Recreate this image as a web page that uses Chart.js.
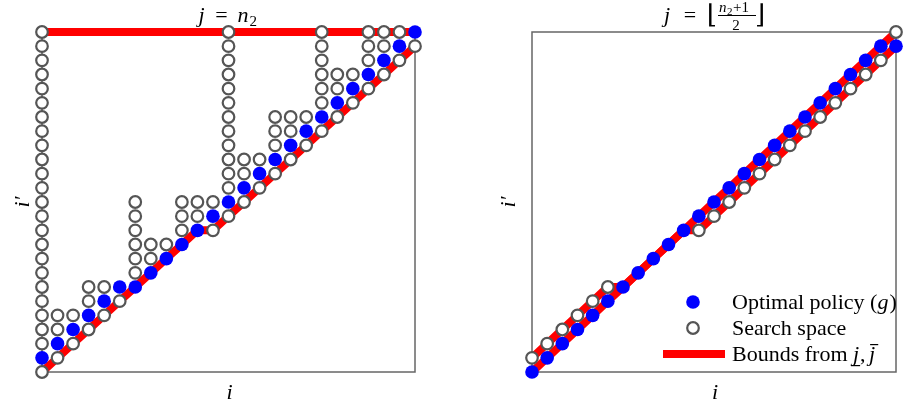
<!DOCTYPE html>
<html>
<head>
<meta charset="utf-8">
<script src="https://cdn.jsdelivr.net/npm/chart.js@4.4.1/dist/chart.umd.min.js"></script>
<style>
  body { margin: 0; background: #fff; }
  #wrap { position: relative; width: 904px; height: 404px; overflow: hidden; }
  canvas { position: absolute; top: 0; }
</style>
</head>
<body>
<div id="wrap">
  <canvas id="leftChart" width="470" height="404" style="left:0"></canvas>
  <canvas id="rightChart" width="434" height="404" style="left:470px"></canvas>
</div>
<script>
// grid of i values (both panels)
const iValues = [1, 2, 3, 4, 5, 6, 7, 8, 9, 10, 11, 12, 13, 14, 15, 16, 17, 18, 19, 20, 21, 22, 23, 24, 25];

// left panel: j = n2
const leftPolicy     = [2, 3, 4, 5, 6, 7, 7, 8, 9, 10, 11, 12, 13, 14, 15, 16, 17, 18, 19, 20, 21, 22, 23, 24, 25];
const leftSearchLow  = [1, 2, 3, 4, 5, 6, 7, 8, 9, 10, 11, 11, 12, 13, 14, 15, 16, 17, 18, 19, 20, 21, 22, 23, 24];
const leftSearchHigh = [25, 5, 5, 7, 7, 7, 13, 10, 10, 13, 13, 13, 25, 16, 16, 19, 19, 19, 25, 22, 22, 25, 25, 25, 25];
const leftBoundLow   = [1, 2, 3, 4, 5, 6, 7, 8, 9, 10, 11, 11, 12, 13, 14, 15, 16, 17, 18, 19, 20, 21, 22, 23, 24];
const leftBoundHigh  = [25, 25, 25, 25, 25, 25, 25, 25, 25, 25, 25, 25, 25, 25, 25, 25, 25, 25, 25, 25, 25, 25, 25, 25, 25];

// right panel: j = floor((n2+1)/2)
const rightPolicy     = [1, 2, 3, 4, 5, 6, 7, 8, 9, 10, 11, 12, 13, 14, 15, 16, 17, 18, 19, 20, 21, 22, 23, 24, 24];
const rightSearchLow  = [1, 2, 3, 4, 5, 6, 7, 8, 9, 10, 11, 11, 12, 13, 14, 15, 16, 17, 18, 19, 20, 21, 22, 23, 24];
const rightSearchHigh = [2, 3, 4, 5, 6, 7, 7, 8, 9, 10, 11, 12, 13, 14, 15, 16, 17, 18, 19, 20, 21, 22, 23, 24, 25];
const rightBoundLow   = [1, 2, 3, 4, 5, 6, 7, 8, 9, 10, 11, 11, 12, 13, 14, 15, 16, 17, 18, 19, 20, 21, 22, 23, 24];
const rightBoundHigh  = [2, 3, 4, 5, 6, 7, 7, 8, 9, 10, 11, 12, 13, 14, 15, 16, 17, 18, 19, 20, 21, 22, 23, 24, 25];

const legendLabels = ['Optimal policy (g)', 'Search space', 'Bounds from '];

const SERIF = '"Liberation Serif", "DejaVu Serif", serif';
const BLUE = '#0000ff';
const RED = '#ff0000';
const RING = '#555555';
const DOT_R = 6.8;
const RING_R = 5.8;
const RING_W = 2.2;

function pairs(ys) {
  return iValues.map((i, k) => ({ x: i, y: ys[k] }));
}

// every i' between the bounds that was evaluated, except the optimum
function searchPoints(low, high, policy) {
  const pts = [];
  iValues.forEach((i, k) => {
    for (let r = low[k]; r <= high[k]; r++) {
      if (r !== policy[k]) pts.push({ x: i, y: r });
    }
  });
  return pts;
}

function panelDatasets(policy, low, high, bLow, bHigh) {
  const bound = (ys) => ({
    label: 'Bounds',
    data: pairs(ys),
    showLine: true,
    borderColor: RED,
    borderWidth: 8,
    borderJoinStyle: 'round',
    pointRadius: 0,
    clip: false,
    order: 3,
  });
  return [
    {
      label: legendLabels[0],
      data: pairs(policy),
      pointRadius: DOT_R,
      pointBackgroundColor: BLUE,
      pointBorderWidth: 0,
      clip: false,
      order: 1,
    },
    {
      label: legendLabels[1],
      data: searchPoints(low, high, policy),
      pointRadius: RING_R,
      pointBackgroundColor: '#ffffff',
      pointBorderColor: RING,
      pointBorderWidth: RING_W,
      clip: false,
      order: 2,
    },
    bound(bLow),
    bound(bHigh),
  ];
}

// box + axis letters
const framePlugin = {
  id: 'frame',
  beforeDatasetsDraw(chart) {
    const { ctx, chartArea: a } = chart;
    ctx.save();
    ctx.strokeStyle = '#666';
    ctx.lineWidth = 1.5;
    ctx.strokeRect(a.left, a.top, a.right - a.left, a.bottom - a.top);
    ctx.restore();
  },
  afterDraw(chart, args, opts) {
    const { ctx, chartArea: a } = chart;
    ctx.save();
    ctx.fillStyle = '#000';
    ctx.font = 'italic 22px ' + SERIF;
    ctx.textAlign = 'center';
    ctx.fillText('i', (a.left + a.right) / 2 + 1, 399);
    ctx.translate(opts.ylabelX, (a.top + a.bottom) / 2);
    ctx.rotate(-Math.PI / 2);
    ctx.fillText('i\u2032', 0, 0);
    ctx.restore();
    if (opts.title) opts.title(ctx, (a.left + a.right) / 2);
  },
};

function leftTitle(ctx, cx) {
  ctx.save();
  ctx.fillStyle = '#000';
  ctx.textAlign = 'left';
  ctx.font = 'italic 22px ' + SERIF;
  ctx.fillText('j', cx - 30, 22);
  ctx.textAlign = 'center';
  ctx.font = '22px ' + SERIF;
  ctx.fillText('=', cx - 7, 22);
  ctx.textAlign = 'left';
  ctx.font = 'italic 22px ' + SERIF;
  ctx.fillText('n', cx + 9, 22);
  ctx.font = '15px ' + SERIF;
  ctx.fillText('2', cx + 21, 26);
  ctx.restore();
}

function rightTitle(ctx, cx) {
  ctx.save();
  ctx.fillStyle = '#000';
  ctx.textAlign = 'left';
  ctx.font = 'italic 22px ' + SERIF;
  ctx.fillText('j', cx - 50, 22);
  ctx.textAlign = 'center';
  ctx.font = '22px ' + SERIF;
  ctx.fillText('=', cx - 24, 22);
  ctx.font = '26px ' + SERIF;
  ctx.fillText('\u230A', cx - 2, 23);
  ctx.fillText('\u230B', cx + 46, 23);
  // fraction (n2+1)/2
  ctx.textAlign = 'left';
  ctx.font = 'italic 15px ' + SERIF;
  ctx.fillText('n', cx + 5, 12);
  ctx.font = '11px ' + SERIF;
  ctx.fillText('2', cx + 13, 15);
  ctx.font = '15px ' + SERIF;
  ctx.fillText('+1', cx + 19, 12);
  ctx.fillRect(cx + 4, 15, 38, 1);
  ctx.textAlign = 'center';
  ctx.fillText('2', cx + 22, 30);
  ctx.restore();
}

// legend inside the right axes, lower right
const legendPlugin = {
  id: 'innerLegend',
  afterDraw(chart) {
    const ctx = chart.ctx;
    const mx = 223, tx = 262;
    const rows = [302, 328, 354];
    ctx.save();
    ctx.beginPath();
    ctx.arc(mx, rows[0], DOT_R, 0, Math.PI * 2);
    ctx.fillStyle = BLUE;
    ctx.fill();
    ctx.beginPath();
    ctx.arc(mx, rows[1], RING_R, 0, Math.PI * 2);
    ctx.fillStyle = '#fff';
    ctx.fill();
    ctx.strokeStyle = RING;
    ctx.lineWidth = RING_W;
    ctx.stroke();
    ctx.fillStyle = RED;
    ctx.fillRect(193, rows[2] - 4, 62, 8);

    ctx.fillStyle = '#000';
    ctx.textAlign = 'left';
    ctx.font = '22px ' + SERIF;
    const t0 = 'Optimal policy (';
    ctx.fillText(t0, tx, rows[0] + 7);
    let x = tx + ctx.measureText(t0).width;
    ctx.font = 'italic 22px ' + SERIF;
    ctx.fillText('g', x, rows[0] + 7);
    x += ctx.measureText('g').width + 1;
    ctx.font = '22px ' + SERIF;
    ctx.fillText(')', x, rows[0] + 7);

    ctx.fillText(legendLabels[1], tx, rows[1] + 7);

    const b = rows[2] + 7;
    ctx.fillText(legendLabels[2], tx, b);
    x = tx + ctx.measureText(legendLabels[2]).width;
    ctx.font = 'italic 22px ' + SERIF;
    const wj = ctx.measureText('j').width;
    ctx.fillText('j', x, b);
    ctx.fillRect(x - 2, b + 4, wj + 3, 1.2);
    x += wj + 1;
    ctx.font = '22px ' + SERIF;
    ctx.fillText(',', x, b);
    x += ctx.measureText(', ').width - 2;
    ctx.font = 'italic 22px ' + SERIF;
    ctx.fillText('j', x, b);
    ctx.fillRect(x + 1, b - 17, wj + 2, 1.2);
    ctx.restore();
  },
};

function baseOptions(padding, frameOpts) {
  return {
    responsive: false,
    animation: false,
    events: [],
    layout: { padding },
    scales: {
      x: { type: 'linear', min: 1, max: 25, display: false },
      y: { type: 'linear', min: 1, max: 25, display: false },
    },
    plugins: {
      legend: { display: false },
      tooltip: { enabled: false },
      frame: frameOpts,
    },
  };
}

new Chart(document.getElementById('leftChart'), {
  type: 'scatter',
  data: { datasets: panelDatasets(leftPolicy, leftSearchLow, leftSearchHigh, leftBoundLow, leftBoundHigh) },
  options: baseOptions({ left: 42, right: 55, top: 32, bottom: 32 }, { ylabelX: 29, title: leftTitle }),
  plugins: [framePlugin],
});

new Chart(document.getElementById('rightChart'), {
  type: 'scatter',
  data: { datasets: panelDatasets(rightPolicy, rightSearchLow, rightSearchHigh, rightBoundLow, rightBoundHigh) },
  options: baseOptions({ left: 62, right: 1, top: 32, bottom: 32 }, { ylabelX: 45, title: rightTitle }),
  plugins: [framePlugin, legendPlugin],
});
</script>
</body>
</html>
